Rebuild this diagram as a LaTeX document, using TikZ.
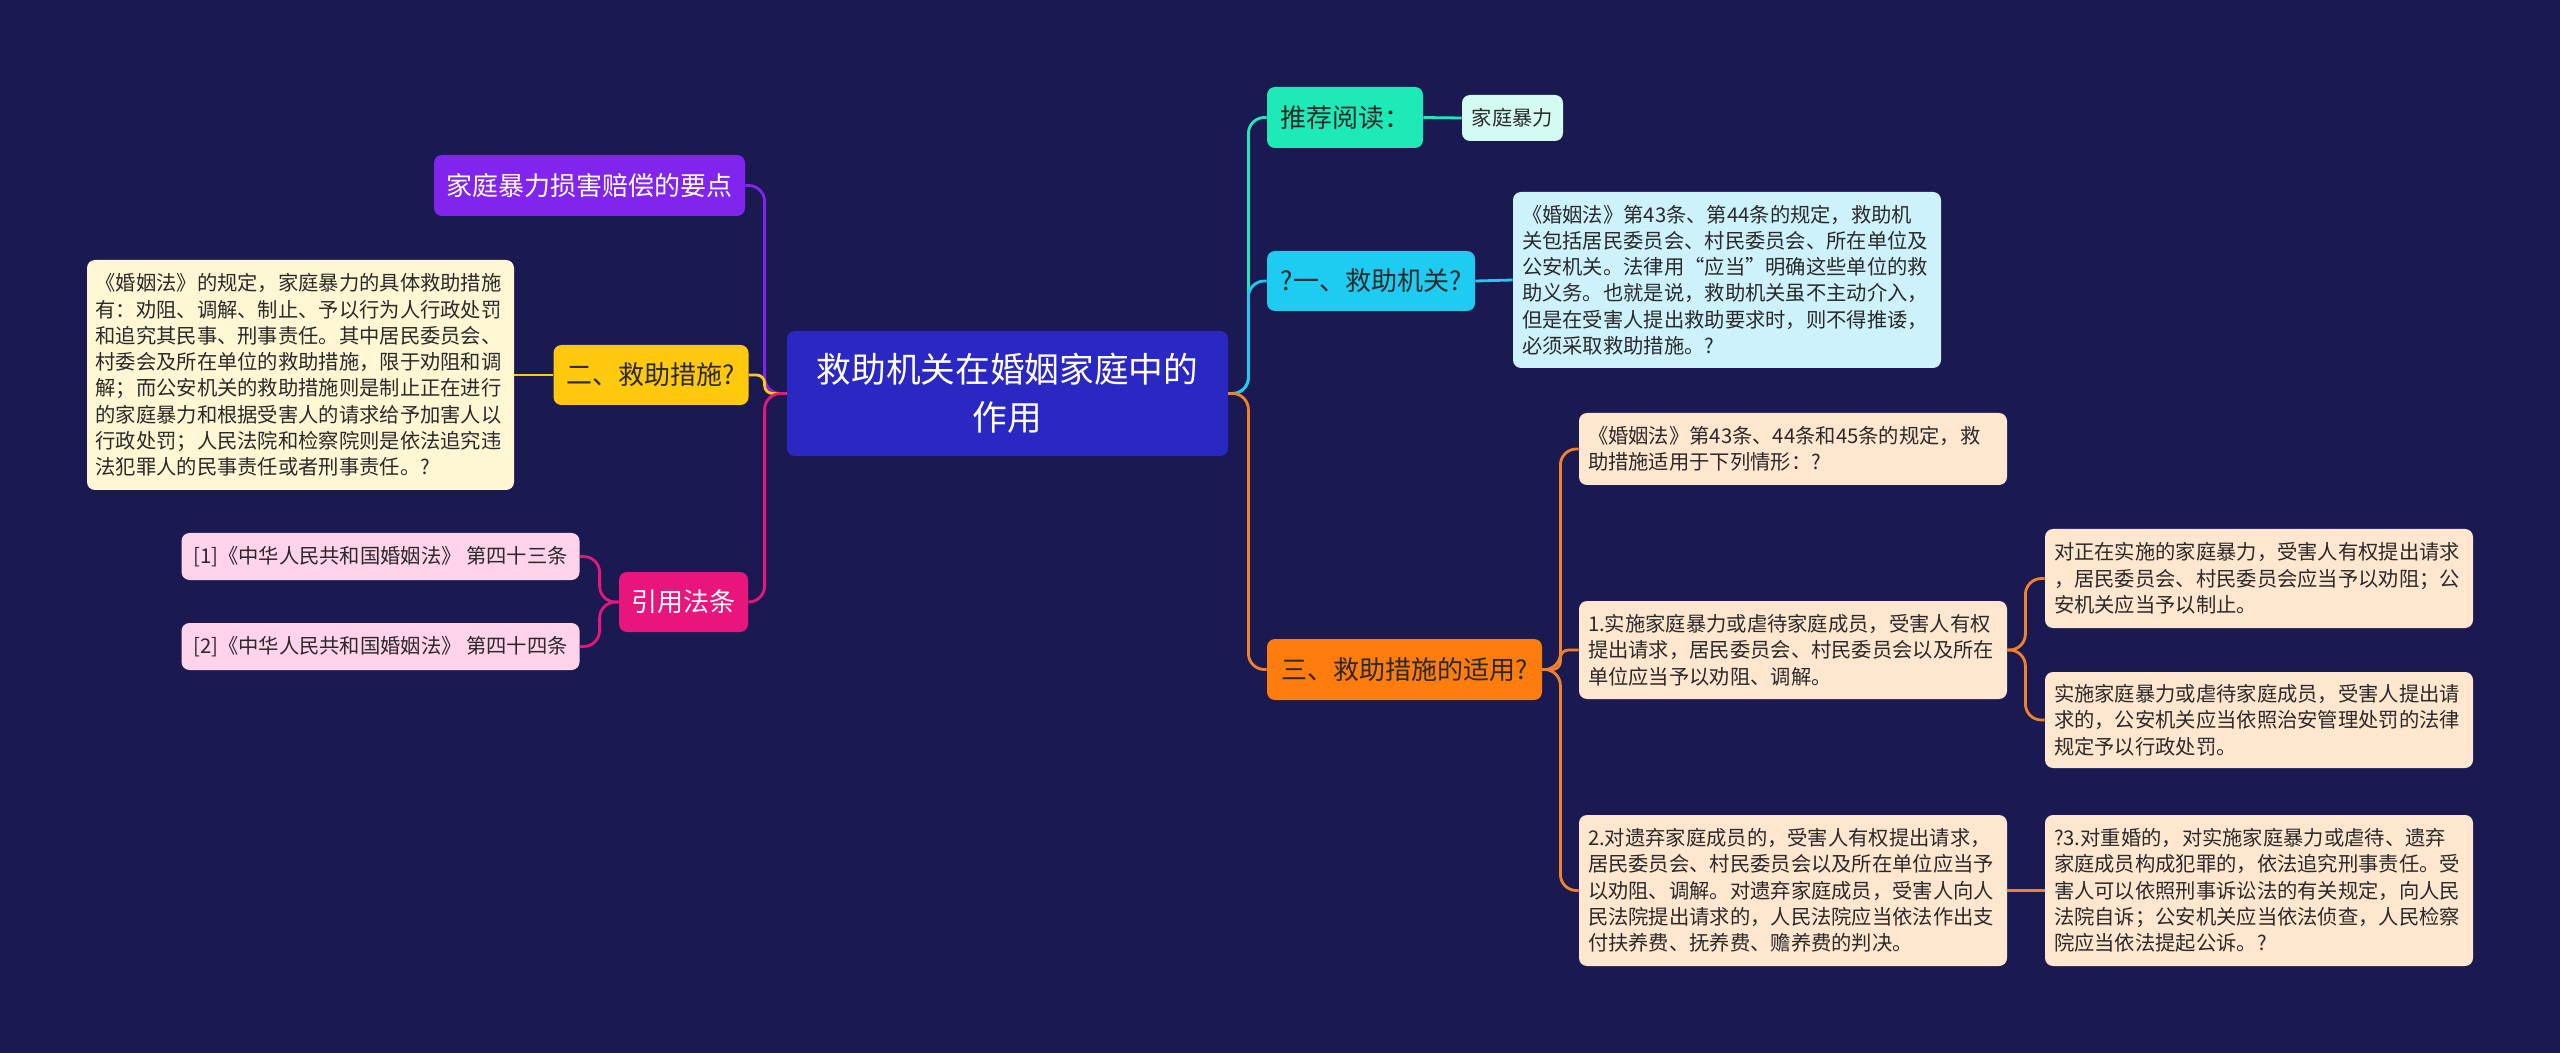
\documentclass[tikz,border=0pt]{standalone}
\usepackage{fontspec}
\setmainfont{Noto Sans CJK SC}
\definecolor{bgc}{HTML}{1B1952}
\definecolor{cmain}{HTML}{2A27C2}
\definecolor{cpurple}{HTML}{8024EE}
\definecolor{cyellow}{HTML}{FFC90E}
\definecolor{cylight}{HTML}{FFF7D4}
\definecolor{cpink}{HTML}{E8157C}
\definecolor{cplight}{HTML}{FFD3EA}
\definecolor{cteal}{HTML}{1EEAB8}
\definecolor{cmint}{HTML}{D4FBF1}
\definecolor{ccyan}{HTML}{1ECBF1}
\definecolor{cclight}{HTML}{CDF2FC}
\definecolor{corange}{HTML}{FF7C0F}
\definecolor{corline}{HTML}{F0822A}
\definecolor{cpeach}{HTML}{FFE6CF}
\definecolor{ctext}{HTML}{2A2A2A}
\newcommand\titlefont{\fontsize{17.35pt}{24pt}\selectfont}
\newcommand\branchfont{\fontsize{13pt}{16pt}\selectfont}
\newcommand\detailfont{\fontsize{10.15pt}{13.15pt}\selectfont}
\tikzset{
  box/.style={rounded corners=4pt, inner sep=0pt, align=left},
  detail/.style={box, font=\detailfont, text=ctext, text width=205pt},
  branch/.style={box, font=\branchfont, align=center, minimum height=30pt},
  con/.style={line width=1.4pt, rounded corners=8pt},
}
\begin{document}
\begin{tikzpicture}[x=0.5pt,y=-0.5pt]
\fill[bgc] (0,0) rectangle (2560,1053);
\useasboundingbox (0,0) rectangle (2560,1053);

% center
\node[box, align=center, fill=cmain, text=white, font=\titlefont, minimum width=220.5pt, minimum height=62.5pt] (c) at (1007.5,393.5) {救助机关在婚姻家庭中的\\作用};

% left side
\node[branch, fill=cpurple, text=white, minimum width=155.5pt, minimum height=30.5pt] (p1) at (589.5,185.5) {家庭暴力损害赔偿的要点};
\node[branch, fill=cyellow, text=ctext, minimum width=97.5pt] (y1) at (651,375) {二、救助措施?};
\node[detail, fill=cylight, minimum width=213.5pt, minimum height=115pt] (yd) at (300.5,375) {《婚姻法》的规定，家庭暴力的具体救助措施\\有：劝阻、调解、制止、予以行为人行政处罚\\和追究其民事、刑事责任。其中居民委员会、\\村委会及所在单位的救助措施，限于劝阻和调\\解；而公安机关的救助措施则是制止正在进行\\的家庭暴力和根据受害人的请求给予加害人以\\行政处罚；人民法院和检察院则是依法追究违\\法犯罪人的民事责任或者刑事责任。?};
\node[branch, fill=cpink, text=white, minimum width=64.5pt] (k) at (683.5,602) {引用法条};
\node[box, fill=cplight, text=ctext, font=\detailfont, minimum width=199pt, minimum height=23.5pt] (r1) at (380.5,556.5) {[1]《中华人民共和国婚姻法》 第四十三条};
\node[box, fill=cplight, text=ctext, font=\detailfont, minimum width=199pt, minimum height=23.5pt] (r2) at (380.5,646.5) {[2]《中华人民共和国婚姻法》 第四十四条};

% right side
\node[branch, fill=cteal, text=ctext, minimum width=78pt, minimum height=30.5pt] (rec) at (1345,117.5) {推荐阅读：};
\node[box, fill=cmint, text=ctext, font=\detailfont, minimum width=50.5pt, minimum height=23pt] (recl) at (1512.5,118) {家庭暴力};
\node[branch, fill=ccyan, text=ctext, minimum width=104pt] (one) at (1371,281) {?一、救助机关?};
\node[detail, fill=cclight, minimum width=214pt, minimum height=88pt] (oned) at (1727,280) {《婚姻法》第43条、第44条的规定，救助机\\关包括居民委员会、村民委员会、所在单位及\\公安机关。法律用“应当”明确这些单位的救\\助义务。也就是说，救助机关虽不主动介入，\\但是在受害人提出救助要求时，则不得推诿，\\必须采取救助措施。?};
\node[branch, fill=corange, text=ctext, minimum width=137.5pt, minimum height=30.5pt] (three) at (1404.5,669.5) {三、救助措施的适用?};
\node[detail, fill=cpeach, minimum width=214pt, minimum height=36pt] (t1) at (1793,449) {《婚姻法》第43条、44条和45条的规定，救\\助措施适用于下列情形：?};
\node[detail, fill=cpeach, minimum width=214pt, minimum height=49pt] (t2) at (1793,650) {1.实施家庭暴力或虐待家庭成员，受害人有权\\提出请求，居民委员会、村民委员会以及所在\\单位应当予以劝阻、调解。};
\node[detail, fill=cpeach, minimum width=214pt, minimum height=75.5pt] (t3) at (1793,890.5) {2.对遗弃家庭成员的，受害人有权提出请求，\\居民委员会、村民委员会以及所在单位应当予\\以劝阻、调解。对遗弃家庭成员，受害人向人\\民法院提出请求的，人民法院应当依法作出支\\付扶养费、抚养费、赡养费的判决。};
\node[detail, fill=cpeach, minimum width=214pt, minimum height=49.5pt] (u1) at (2259,578.5) {对正在实施的家庭暴力，受害人有权提出请求\\，居民委员会、村民委员会应当予以劝阻；公\\安机关应当予以制止。};
\node[detail, fill=cpeach, minimum width=214pt, minimum height=48pt] (u2) at (2259,720) {实施家庭暴力或虐待家庭成员，受害人提出请\\求的，公安机关应当依照治安管理处罚的法律\\规定予以行政处罚。};
\node[detail, fill=cpeach, minimum width=214pt, minimum height=75.5pt] (u3) at (2259,890.5) {?3.对重婚的，对实施家庭暴力或虐待、遗弃\\家庭成员构成犯罪的，依法追究刑事责任。受\\害人可以依照刑事诉讼法的有关规定，向人民\\法院自诉；公安机关应当依法侦查，人民检察\\院应当依法提起公诉。?};

% left connectors
\draw[con, cpurple] (c.west) -- ++(-22,0) |- (p1.east);
\draw[con, cyellow, rounded corners=4pt] (c.west) -- ++(-22,0) |- (y1.east);
\draw[con, cpink] (c.west) -- ++(-22,0) |- (k.east);
\draw[con, cyellow] (y1.west) -- (yd.east);
\draw[con, cpink] (k.west) -- ++(-19,0) |- (r1.east);
\draw[con, cpink] (k.west) -- ++(-19,0) |- (r2.east);

% right connectors
\draw[con, cteal] (c.east) -- ++(20,0) |- (rec.west);
\draw[con, ccyan] (c.east) -- ++(20,0) |- (one.west);
\draw[con, corline] (c.east) -- ++(20,0) |- (three.west);
\draw[con, cteal] (rec.east) -- (recl.west);
\draw[con, ccyan] (one.east) -- (oned.west);
\draw[con, corline] (three.east) -- ++(18,0) |- (t1.west);
\draw[con, corline, rounded corners=4pt] (three.east) -- ++(18,0) |- (t2.west);
\draw[con, corline] (three.east) -- ++(18,0) |- (t3.west);
\draw[con, corline] (t2.east) -- ++(18,0) |- (u1.west);
\draw[con, corline] (t2.east) -- ++(18,0) |- (u2.west);
\draw[con, corline] (t3.east) -- (u3.west);
\end{tikzpicture}
\end{document}
